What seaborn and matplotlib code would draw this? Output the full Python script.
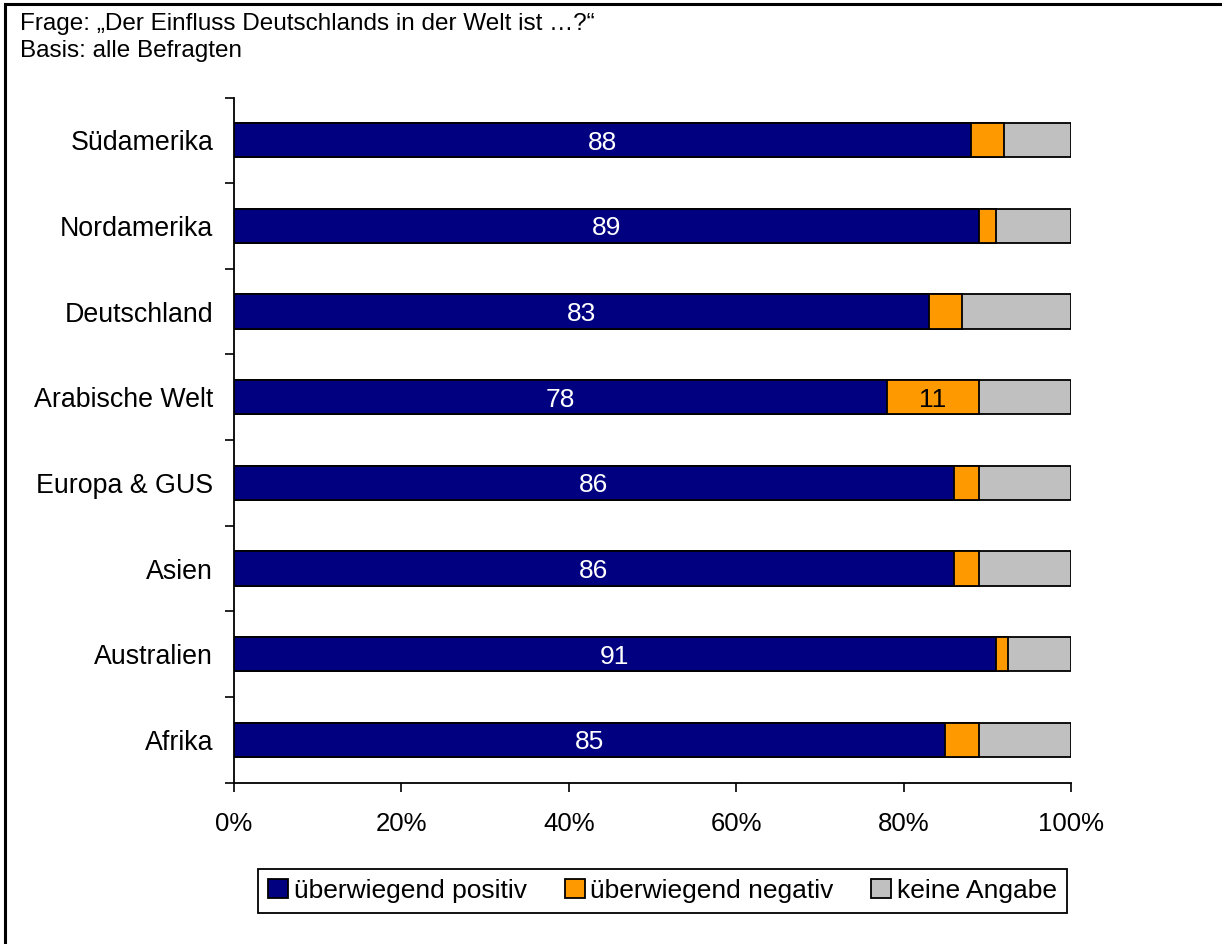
import matplotlib
matplotlib.use("Agg")
import matplotlib.pyplot as plt
from matplotlib.patches import Patch, Rectangle
from matplotlib.ticker import FixedLocator
import seaborn as sns
import pandas as pd

# Survey results (percent of respondents per region)
regions = ["Südamerika", "Nordamerika", "Deutschland", "Arabische Welt",
           "Europa & GUS", "Asien", "Australien", "Afrika"]
positiv = [88, 89, 83, 78, 86, 86, 91, 85]
negativ = [4, 2, 4, 11, 3, 3, 1.5, 4]
keine_angabe = [8, 9, 13, 11, 11, 11, 7.5, 11]
series_names = ["überwiegend positiv", "überwiegend negativ", "keine Angabe"]
x_ticks = [0, 20, 40, 60, 80, 100]

colors = ["#000080", "#FF9900", "#C0C0C0"]
FS_TITLE = 17.5
FS_CAT = 19.3
FS_VAL = 19
FS_TICK = 18.5
FS_LEG = 19

sns.set_theme(style="white")
plt.rcParams["font.family"] = ["Liberation Sans", "DejaVu Sans"]

df = pd.DataFrame({"Region": regions, "pos": positiv, "neg": negativ, "ka": keine_angabe})
df["cum_neg"] = df["pos"] + df["neg"]
df["cum_all"] = df["cum_neg"] + df["ka"]

W, H = 1222, 944
fig = plt.figure(figsize=(W / 100, H / 100), dpi=100)
ax = fig.add_axes([234 / W, 1 - 782.7 / H, (1071 - 234) / W, (782.7 - 97.5) / H])

# stacked bars: draw cumulative totals back to front
for col, color in [("cum_all", colors[2]), ("cum_neg", colors[1]), ("pos", colors[0])]:
    sns.barplot(data=df, x=col, y="Region", orient="h", color=color, saturation=1,
                width=0.4, edgecolor="black", linewidth=1.3, ax=ax)

# value labels (baseline shifted so digits sit centred in the bar)
shift = -FS_VAL * 0.716 / 2
for i, row in df.iterrows():
    ax.annotate(f"{row['pos']:g}", (row["pos"] / 2, i), xytext=(0, shift),
                textcoords="offset points", color="white", ha="center",
                va="baseline", fontsize=FS_VAL)
    if row["neg"] >= 10:
        ax.annotate(f"{row['neg']:g}", (row["pos"] + row["neg"] / 2, i),
                    xytext=(0, shift), textcoords="offset points", color="black",
                    ha="center", va="baseline", fontsize=FS_VAL)

ax.set_xlim(0, 100)
ax.set_ylim(len(regions) - 0.5, -0.5)
ax.set_xlabel("")
ax.set_ylabel("")
for side in ["top", "right"]:
    ax.spines[side].set_visible(False)
for side in ["left", "bottom"]:
    ax.spines[side].set_color("black")
    ax.spines[side].set_linewidth(1.3)

ax.xaxis.set_major_locator(FixedLocator(x_ticks))
ax.set_xticklabels([f"{v}%" for v in x_ticks])
ax.tick_params(axis="x", direction="out", length=6.5, width=1.2, color="black",
               pad=14.5, labelsize=FS_TICK, labelcolor="black", bottom=True)
ax.yaxis.set_minor_locator(FixedLocator([k - 0.5 for k in range(len(regions) + 1)]))
ax.tick_params(axis="y", which="major", length=0, pad=15, labelsize=FS_CAT,
               labelcolor="black")
ax.tick_params(axis="y", which="minor", direction="out", length=6.5, width=1.2,
               color="black", left=True)

# heading
fig.text(20 / W, 1 - 30 / H, "Frage: „Der Einfluss Deutschlands in der Welt ist …?“",
         ha="left", va="baseline", fontsize=FS_TITLE, color="black")
fig.text(20 / W, 1 - 57 / H, "Basis: alle Befragten", ha="left", va="baseline",
         fontsize=FS_TITLE, color="black")

# legend
handles = [Patch(facecolor=c, edgecolor="black", linewidth=1.3) for c in colors]
leg = fig.legend(handles, series_names, loc="center",
                 bbox_to_anchor=((255 + 1070) / 2 / W, 1 - 891 / H), ncol=3,
                 frameon=True, fancybox=False, edgecolor="black", framealpha=1,
                 handlelength=0.75, handleheight=0.75, handletextpad=0.2,
                 columnspacing=1.45, borderpad=0.38, fontsize=FS_LEG)
leg.get_frame().set_linewidth(1.3)
for t in leg.get_texts():
    t.set_color("black")

# outer frame
fig.patches.append(Rectangle((5 / W, -0.1), 1.2, 1.1 - 4 / H, transform=fig.transFigure,
                             fill=False, edgecolor="black", linewidth=2.2))

fig.savefig("out.png", dpi=100)
